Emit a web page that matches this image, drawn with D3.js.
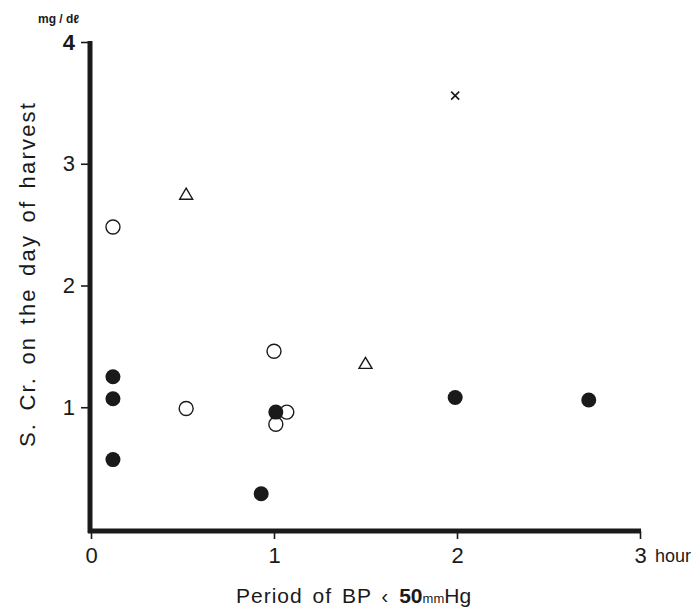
<!DOCTYPE html>
<html>
<head>
<meta charset="utf-8">
<script src="https://cdn.jsdelivr.net/npm/d3@7"></script>
<style>
  body { margin: 0; background: #fff; }
  svg text { font-family: "Liberation Sans", Arial, sans-serif; fill: #1a1a1a; }
</style>
</head>
<body>
<div id="chart"></div>
<script>
    'use strict';

    // values
    var filledX = [0.12, 0.12, 0.12, 0.93, 1.01, 1.99, 2.72];
    var filledY = [1.25, 1.07, 0.57, 0.29, 0.96, 1.08, 1.06];
    var openX = [0.12, 0.52, 1.00, 1.07, 1.01];
    var openY = [2.48, 0.99, 1.46, 0.96, 0.86];
    var triX = [0.52, 1.50];
    var triY = [2.75, 1.36];
    var crossX = [1.99];
    var crossY = [3.56];
    var xTicks = [0, 1, 2, 3];
    var yTicks = [1, 2, 3, 4];

    function zip(xs, ys) {
        return xs.map(function(x, i) { return { x: x, y: ys[i] }; });
    }

    var width = 700, height = 610;
    var ink = '#1a1a1a';

    var svg = d3.select('#chart')
        .append('svg')
        .attr('width', width)
        .attr('height', height);

    var x = d3.scaleLinear().domain([0, 3]).range([91, 640]);
    var y = d3.scaleLinear().domain([0, 4]).range([529, 42]);

    // x axis
    var xAxis = svg.append('g')
        .attr('transform', 'translate(0,531)')
        .call(d3.axisBottom(x).tickValues(xTicks).tickFormat(d3.format('d'))
            .tickSize(8).tickSizeOuter(0).tickPadding(8));
    xAxis.select('.domain').remove();
    xAxis.selectAll('.tick line').attr('stroke', ink).attr('stroke-width', 1.6);
    xAxis.selectAll('.tick text')
        .attr('font-size', 22)
        .attr('fill', ink);
    xAxis.append('line')
        .attr('x1', 88).attr('x2', x(3) + 1)
        .attr('y1', 0).attr('y2', 0)
        .attr('stroke', ink)
        .attr('stroke-width', 5);

    // y axis
    var yAxis = svg.append('g')
        .attr('transform', 'translate(90,0)')
        .call(d3.axisLeft(y).tickValues(yTicks).tickFormat(d3.format('d'))
            .tickSize(9).tickSizeOuter(0).tickPadding(6));
    yAxis.select('.domain').remove();
    yAxis.selectAll('.tick line').attr('stroke', ink).attr('stroke-width', 1.6);
    yAxis.selectAll('.tick text')
        .attr('font-size', 22)
        .attr('fill', ink);
    yAxis.select('.tick:last-of-type text').attr('font-weight', 'bold');
    yAxis.append('line')
        .attr('x1', 0).attr('x2', 0)
        .attr('y1', y(4) - 1).attr('y2', 533)
        .attr('stroke', ink)
        .attr('stroke-width', 5);

    // units
    svg.append('text')
        .attr('x', 38).attr('y', 23)
        .attr('font-size', 12)
        .attr('font-weight', 'bold')
        .text('mg / dℓ');

    svg.append('text')
        .attr('x', 655).attr('y', 562)
        .attr('font-size', 18)
        .text('hour');

    // axis titles
    svg.append('text')
        .attr('transform', 'translate(35,274) rotate(-90)')
        .attr('text-anchor', 'middle')
        .attr('font-size', 22)
        .attr('letter-spacing', 2.2)
        .attr('word-spacing', 3)
        .text('S. Cr. on the day of harvest');

    var xTitle = svg.append('text')
        .attr('x', 236).attr('y', 603)
        .attr('font-size', 21)
        .attr('letter-spacing', 1)
        .attr('word-spacing', 3);
    xTitle.append('tspan').text('Period of BP ‹ ');
    xTitle.append('tspan').attr('font-weight', 'bold').attr('letter-spacing', 0).text('50');
    xTitle.append('tspan').attr('font-size', 13).attr('letter-spacing', 0).text('mm');
    xTitle.append('tspan').attr('letter-spacing', 0).text('Hg');

    // marks
    var marks = svg.append('g');

    marks.selectAll('circle.open')
        .data(zip(openX, openY))
        .enter().append('circle')
        .attr('class', 'open')
        .attr('cx', function(d) { return x(d.x); })
        .attr('cy', function(d) { return y(d.y); })
        .attr('r', 7)
        .attr('fill', '#fff')
        .attr('stroke', ink)
        .attr('stroke-width', 1.4);

    marks.selectAll('circle.filled')
        .data(zip(filledX, filledY))
        .enter().append('circle')
        .attr('class', 'filled')
        .attr('cx', function(d) { return x(d.x); })
        .attr('cy', function(d) { return y(d.y); })
        .attr('r', 7.5)
        .attr('fill', ink);

    marks.selectAll('path.tri')
        .data(zip(triX, triY))
        .enter().append('path')
        .attr('class', 'tri')
        .attr('d', function(d) {
            var cx = x(d.x), cy = y(d.y), p = d3.path();
            p.moveTo(cx, cy - 6);
            p.lineTo(cx + 6.5, cy + 5);
            p.lineTo(cx - 6.5, cy + 5);
            p.closePath();
            return p.toString();
        })
        .attr('fill', 'none')
        .attr('stroke', ink)
        .attr('stroke-width', 1.4);

    marks.selectAll('path.cross')
        .data(zip(crossX, crossY))
        .enter().append('path')
        .attr('class', 'cross')
        .attr('d', function(d) {
            var cx = x(d.x), cy = y(d.y), s = 4;
            return 'M' + (cx - s) + ',' + (cy - s) + 'L' + (cx + s) + ',' + (cy + s) +
                'M' + (cx + s) + ',' + (cy - s) + 'L' + (cx - s) + ',' + (cy + s);
        })
        .attr('stroke', ink)
        .attr('stroke-width', 1.6);
</script>
</body>
</html>
